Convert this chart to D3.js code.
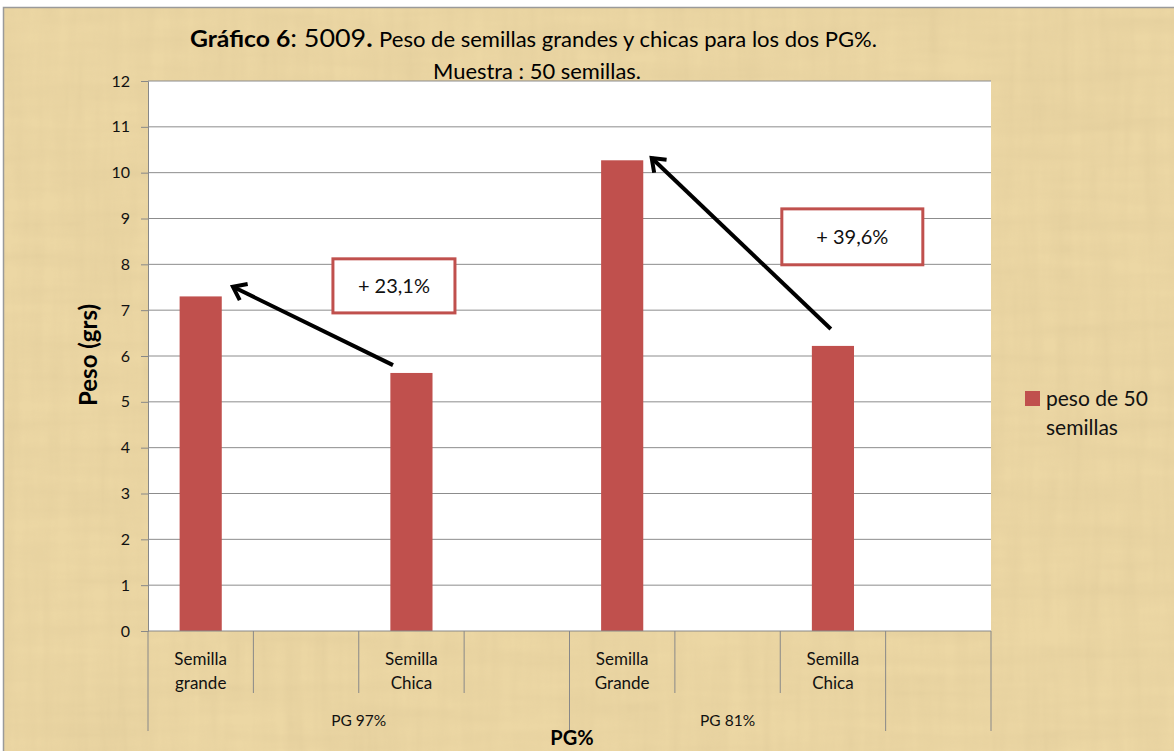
<!DOCTYPE html>
<html>
<head>
<meta charset="utf-8">
<script src="https://cdn.jsdelivr.net/npm/d3@7"></script>
<style>
  body { margin: 0; background: #fff; }
  svg { display: block; font-family: Lato, "Open Sans", sans-serif; }
</style>
</head>
<body>
<svg id="chart" width="1174" height="751"></svg>
<script>
// slots along the x axis (empty ones are spacer categories)
var categories = ["Semilla\ngrande", "", "Semilla\nChica", "", "Semilla\nGrande", "", "Semilla\nChica", ""];
var values = [7.3, null, 5.63, null, 10.27, null, 6.22, null];
var groupLabels = ["PG 97%", "PG 81%", ""];
var groupSizes = [4, 3, 1];
var yTicks = [0, 1, 2, 3, 4, 5, 6, 7, 8, 9, 10, 11, 12];
var seriesName = ["peso de 50", "semillas"];
// annotations, in slot units / y units
var notes = ["+ 23,1%", "+ 39,6%"];
var noteBoxes = [[1.755, 8.12, 2.913, 6.94], [6.015, 9.21, 7.353, 7.99]];
var arrows = [[2.325, 5.80, 0.806, 7.51], [6.48, 6.59, 4.78, 10.32]];

var svg = d3.select("#chart");
var plotL = 148, plotR = 991, plotT = 81, plotB = 631;
var red = "#c0504d";

var x = d3.scaleBand()
  .domain(d3.range(categories.length))
  .range([plotL, plotR]);

var xs = d3.scaleLinear()
  .domain([0, categories.length])
  .range([plotL, plotR]);

var y = d3.scaleLinear()
  .domain([0, 12])
  .range([plotB, plotT]);

// papyrus background
var defs = svg.append("defs");
var f = defs.append("filter").attr("id", "papyrus")
  .attr("x", 0).attr("y", 0).attr("width", 1).attr("height", 1);
f.append("feTurbulence")
  .attr("type", "fractalNoise")
  .attr("baseFrequency", "0.006 0.06")
  .attr("numOctaves", 3)
  .attr("seed", 7)
  .attr("result", "h");
f.append("feTurbulence")
  .attr("type", "fractalNoise")
  .attr("baseFrequency", "0.07 0.006")
  .attr("numOctaves", 3)
  .attr("seed", 3)
  .attr("result", "v");
f.append("feBlend").attr("in", "h").attr("in2", "v").attr("mode", "multiply").attr("result", "b");
f.append("feColorMatrix")
  .attr("in", "b")
  .attr("values", "0 0 0 0 0.6  0 0 0 0 0.47  0 0 0 0 0.25  -0.9 0 0 0 0.55");

defs.append("marker")
  .attr("id", "head")
  .attr("markerUnits", "userSpaceOnUse")
  .attr("viewBox", "-16 -12 20 24")
  .attr("markerWidth", 20).attr("markerHeight", 24)
  .attr("refX", 0).attr("refY", 0)
  .attr("orient", "auto")
  .append("path")
  .attr("d", "M-12,-9 L0,0 L-12,9")
  .attr("fill", "none")
  .attr("stroke", "#000")
  .attr("stroke-width", 4);

svg.append("rect")
  .attr("x", 3).attr("y", 7).attr("width", 1171).attr("height", 744)
  .attr("fill", "#ecd7a4");
svg.append("rect")
  .attr("x", 3).attr("y", 7).attr("width", 1171).attr("height", 744)
  .attr("filter", "url(#papyrus)")
  .attr("opacity", 0.5);
svg.append("path")
  .attr("d", "M3.5,751 V7.5 H1174")
  .attr("fill", "none")
  .attr("stroke", "#9a9a9a")
  .attr("stroke-width", 1.5);

// plot area
svg.append("rect")
  .attr("x", plotL).attr("y", plotT)
  .attr("width", plotR - plotL).attr("height", plotB - plotT)
  .attr("fill", "#fff");

// gridlines
svg.append("g")
  .selectAll("line")
  .data(yTicks.filter(function(d){ return d > 0; }))
  .join("line")
  .attr("x1", plotL).attr("x2", plotR)
  .attr("y1", function(d){ return y(d); })
  .attr("y2", function(d){ return y(d); })
  .attr("stroke", "#8c8c8c")
  .attr("stroke-width", 1);

// y axis
var yAxis = svg.append("g")
  .attr("transform", "translate(" + plotL + ",0)")
  .call(d3.axisLeft(y).tickValues(yTicks).tickSize(7).tickPadding(11));
yAxis.select(".domain").attr("stroke", "#888");
yAxis.selectAll(".tick line").attr("stroke", "#888");
yAxis.selectAll(".tick text")
  .attr("font-size", 16)
  .attr("font-family", "Lato, sans-serif")
  .attr("fill", "#111");

// bars
svg.append("g")
  .selectAll("rect")
  .data(values.map(function(v, i){ return {i: i, v: v}; }).filter(function(d){ return d.v !== null; }))
  .join("rect")
  .attr("x", function(d){ return x(d.i) + x.bandwidth() * 0.3; })
  .attr("width", x.bandwidth() * 0.4)
  .attr("y", function(d){ return y(d.v); })
  .attr("height", function(d){ return y(0) - y(d.v); })
  .attr("fill", red);

// x axis: baseline, category ticks, group ticks
var xa = svg.append("g");
xa.append("line")
  .attr("x1", plotL).attr("x2", plotR)
  .attr("y1", plotB).attr("y2", plotB)
  .attr("stroke", "#888");

var groupEdges = [0];
groupSizes.forEach(function(n, i){ groupEdges.push(groupEdges[i] + n); });

xa.selectAll("line.cat")
  .data(d3.range(categories.length + 1))
  .join("line")
  .attr("class", "cat")
  .attr("x1", function(d){ return xs(d); })
  .attr("x2", function(d){ return xs(d); })
  .attr("y1", plotB)
  .attr("y2", function(d){ return groupEdges.indexOf(d) >= 0 ? 731 : 693; })
  .attr("stroke", "#888");

xa.selectAll("text.cat")
  .data(categories)
  .join("text")
  .attr("class", "cat")
  .attr("text-anchor", "middle")
  .attr("font-size", 17)
  .attr("fill", "#111")
  .attr("transform", function(d, i){ return "translate(" + (x(i) + x.bandwidth() / 2) + ",665)"; })
  .selectAll("tspan")
  .data(function(d){ return d ? d.split("\n") : []; })
  .join("tspan")
  .attr("x", 0)
  .attr("y", function(d, j){ return j * 24; })
  .text(function(d){ return d; });

xa.selectAll("text.grp")
  .data(groupLabels)
  .join("text")
  .attr("class", "grp")
  .attr("text-anchor", "middle")
  .attr("font-size", 15.5)
  .attr("fill", "#111")
  .attr("x", function(d, i){ return (xs(groupEdges[i]) + xs(groupEdges[i + 1])) / 2; })
  .attr("y", 726)
  .text(function(d){ return d; });

// axis titles
svg.append("text")
  .attr("x", 572).attr("y", 745)
  .attr("text-anchor", "middle")
  .attr("font-size", 20)
  .attr("font-weight", "bold")
  .text("PG%");

svg.append("text")
  .attr("transform", "translate(97,355) rotate(-90)")
  .attr("text-anchor", "middle")
  .attr("font-size", 24)
  .attr("font-weight", "bold")
  .text("Peso (grs)");

// title
var title = svg.append("text")
  .attr("x", 190).attr("y", 47)
  .attr("textLength", 687)
  .attr("lengthAdjust", "spacingAndGlyphs");
title.append("tspan").attr("font-size", 23).attr("font-weight", "bold").text("Gráfico 6");
title.append("tspan").attr("font-size", 25).text(": 5009");
title.append("tspan").attr("font-size", 25).attr("font-weight", "bold").text(". ");
title.append("tspan").attr("font-size", 20.5).text("Peso de semillas grandes y chicas para los dos  PG%.");

svg.append("text")
  .attr("x", 537).attr("y", 79)
  .attr("text-anchor", "middle")
  .attr("font-size", 20.5)
  .attr("textLength", 208)
  .attr("lengthAdjust", "spacingAndGlyphs")
  .text("Muestra : 50 semillas.");

// legend
svg.append("rect")
  .attr("x", 1025).attr("y", 391).attr("width", 15).attr("height", 15)
  .attr("fill", red);
svg.append("text")
  .attr("x", 1046).attr("y", 406)
  .attr("font-size", 21)
  .attr("fill", "#111")
  .selectAll("tspan")
  .data(seriesName)
  .join("tspan")
  .attr("x", 1046)
  .attr("dy", function(d, i){ return i ? 29 : 0; })
  .text(function(d){ return d; });

// annotation arrows and boxes
svg.append("g")
  .selectAll("line")
  .data(arrows)
  .join("line")
  .attr("x1", function(d){ return xs(d[0]); })
  .attr("y1", function(d){ return y(d[1]); })
  .attr("x2", function(d){ return xs(d[2]); })
  .attr("y2", function(d){ return y(d[3]); })
  .attr("stroke", "#000")
  .attr("stroke-width", 4)
  .attr("marker-end", "url(#head)");

var nb = svg.append("g")
  .selectAll("g")
  .data(noteBoxes)
  .join("g");
nb.append("rect")
  .attr("x", function(d){ return xs(d[0]); })
  .attr("y", function(d){ return y(d[1]); })
  .attr("width", function(d){ return xs(d[2]) - xs(d[0]); })
  .attr("height", function(d){ return y(d[3]) - y(d[1]); })
  .attr("fill", "#fff")
  .attr("stroke", red)
  .attr("stroke-width", 3);
nb.append("text")
  .attr("x", function(d){ return (xs(d[0]) + xs(d[2])) / 2; })
  .attr("y", function(d){ return (y(d[1]) + y(d[3])) / 2 + 7; })
  .attr("text-anchor", "middle")
  .attr("font-size", 20)
  .attr("fill", "#111")
  .text(function(d, i){ return notes[i]; });
</script>
</body>
</html>
